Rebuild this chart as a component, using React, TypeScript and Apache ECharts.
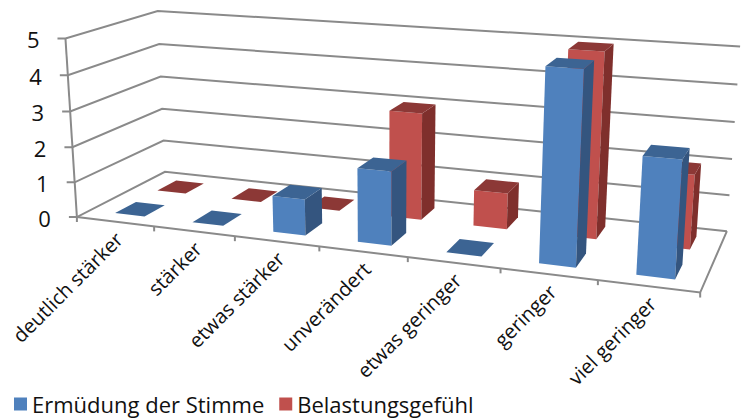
import React, { useEffect, useRef } from "react";
import * as echarts from "echarts";

const categories = ["deutlich stärker", "stärker", "etwas stärker", "unverändert", "etwas geringer", "geringer", "viel geringer"];
const yTicks = [0, 1, 2, 3, 4, 5];
const seriesBlueName = "Ermüdung der Stimme";
const seriesRedName = "Belastungsgefühl";
const blueValues = [0, 0, 1, 2, 0, 5, 3];
const redValues = [0, 0, 0, 3, 1, 5, 2];

const W = 747, H = 420;
const FONT = "'Open Sans', 'Noto Sans', sans-serif";
const LINE = "#8a8a8a";
const LW = 2;

// reference points of the perspective box: [u, v, w, screenX, screenY]
const anchors = [
  [0, 0, 0, 77, 217], [1, 0, 0, 700, 293], [0, 1, 0, 165, 172], [1, 1, 0, 727, 230],
  [0, 0, 1, 66, 38], [0, 1, 1, 157, 11], [1, 1, 1, 740, 47],
  [3 / 7, 0, 0, 319, 247], [0, 0, 0.6, 70, 111], [0, 1, 0.6, 161, 77], [1, 1, 0.6, 735, 122],
];

function solveProjection() {
  const rows: number[][] = [];
  const rhs: number[] = [];
  anchors.forEach(([u, v, w, sx, sy]) => {
    rows.push([u, v, w, 1, 0, 0, 0, 0, -sx * u, -sx * v, -sx * w]); rhs.push(sx);
    rows.push([0, 0, 0, 0, u, v, w, 1, -sy * u, -sy * v, -sy * w]); rhs.push(sy);
  });
  const n = 11;
  const A: number[][] = [];
  for (let i = 0; i < n; i++) {
    const r: number[] = [];
    for (let j = 0; j < n; j++) r.push(rows.reduce((s, row) => s + row[i] * row[j], 0));
    r.push(rows.reduce((s, row, k) => s + row[i] * rhs[k], 0));
    A.push(r);
  }
  for (let i = 0; i < n; i++) {
    let p = i;
    for (let k = i + 1; k < n; k++) if (Math.abs(A[k][i]) > Math.abs(A[p][i])) p = k;
    [A[i], A[p]] = [A[p], A[i]];
    for (let k = 0; k < n; k++) {
      if (k === i) continue;
      const f = A[k][i] / A[i][i];
      for (let j = i; j <= n; j++) A[k][j] -= f * A[i][j];
    }
  }
  return A.map((r, i) => r[n] / r[i]);
}
const M = solveProjection();
function project(u: number, v: number, w: number): number[] {
  const d = M[8] * u + M[9] * v + M[10] * w + 1;
  return [(M[0] * u + M[1] * v + M[2] * w + M[3]) / d, (M[4] * u + M[5] * v + M[6] * w + M[7]) / d];
}

const BAR_W = 0.385;
const BAR_SHIFT = 0.003;
const rows3d = { blue: [0.14, 0.37], red: [0.62, 0.85] };

function barRenderer(row: number[], front: string, side: string, top: string) {
  return (_p: any, api: any) => {
    const c = api.coord([api.value(0), api.value(1)]);
    const band = api.size([1, 0])[0];
    const uc = c[0] / W + BAR_SHIFT;
    const w = (H - c[1]) / H;
    const u0 = uc - (BAR_W * band) / 2 / W;
    const u1 = uc + (BAR_W * band) / 2 / W;
    const [v0, v1] = row;
    const poly = (pts: number[][], fill: string) => ({ type: "polygon", shape: { points: pts }, style: { fill }, silent: true });
    const children: any[] = [];
    if (w > 0) {
      children.push(poly([project(u0, v0, 0), project(u1, v0, 0), project(u1, v0, w), project(u0, v0, w)], front));
      children.push(poly([project(u1, v0, 0), project(u1, v1, 0), project(u1, v1, w), project(u1, v0, w)], side));
    }
    children.push(poly([project(u0, v0, w), project(u1, v0, w), project(u1, v1, w), project(u0, v1, w)], top));
    return { type: "group", children };
  };
}

function frameRenderer(_p: any, api: any) {
  const w = (H - api.coord([0, api.value(1)])[1]) / H;
  const a = project(0, 0, w), b = project(0, 1, w), c = project(1, 1, w);
  const children: any[] = [
    { type: "polyline", shape: { points: [[a[0] - 8, a[1]], a, b, c] }, style: { stroke: LINE, lineWidth: LW, fill: "none" } },
    {
      type: "text", x: a[0] - 26, y: a[1] + 1,
      style: { text: String(api.value(1)), align: "right", verticalAlign: "middle", fontFamily: FONT, fontSize: 22, fill: "#111" },
    },
  ];
  return { type: "group", children };
}

function floorRenderer(params: any, api: any) {
  const i = api.value(0);
  const band = api.size([1, 0])[0];
  const cx = api.coord([i, 0])[0];
  const left = (cx - band / 2) / W;
  const uc = cx / W;
  const t = project(left, 0, 0);
  const children: any[] = [
    { type: "line", shape: { x1: t[0], y1: t[1], x2: t[0], y2: t[1] + 5 }, style: { stroke: LINE, lineWidth: LW } },
  ];
  if (i === categories.length - 1) {
    const e = project((cx + band / 2) / W, 0, 0);
    children.push({ type: "line", shape: { x1: e[0], y1: e[1], x2: e[0], y2: e[1] + 5 }, style: { stroke: LINE, lineWidth: LW } });
    const a = project(0, 0, 0), b = project(1, 0, 0), d = project(1, 1, 0);
    const top = project(0, 0, 1);
    children.push({ type: "polyline", shape: { points: [a, b, d] }, style: { stroke: LINE, lineWidth: LW, fill: "none" } });
    children.push({ type: "line", shape: { x1: a[0], y1: a[1], x2: top[0], y2: top[1] }, style: { stroke: LINE, lineWidth: LW } });
  }
  const p = project(uc, 0, 0);
  children.push({
    type: "text", x: p[0] + 4, y: p[1] + 14, rotation: Math.PI / 4,
    style: { text: categories[params.dataIndex], align: "right", verticalAlign: "middle", fontFamily: FONT, fontSize: 20, fill: "#111" },
  });
  return { type: "group", children };
}

function pairs(values: number[]) {
  return values.map((v, i) => [i, v]);
}

export default function App() {
  const ref = useRef<HTMLDivElement>(null);
  useEffect(() => {
    const chart = echarts.init(ref.current!, null, { renderer: "svg" });
    chart.setOption({
      animation: false,
      backgroundColor: "#ffffff",
      grid: { left: 0, right: 0, top: 0, bottom: 0 },
      xAxis: { type: "category", data: categories, show: false },
      yAxis: { type: "value", min: 0, max: 5, interval: 1, show: false },
      legend: {
        left: 9, top: 388, itemWidth: 13, itemHeight: 13, itemGap: 15, icon: "rect",
        data: [seriesBlueName, seriesRedName],
        textStyle: { fontFamily: FONT, fontSize: 22, color: "#111" },
      },
      series: [
        { type: "custom", name: "frame", clip: false, silent: true, data: yTicks.map((t) => [0, t]), renderItem: frameRenderer },
        { type: "custom", name: "floor", clip: false, silent: true, data: categories.map((_, i) => [i, 0]), renderItem: floorRenderer },
        {
          type: "custom", name: seriesRedName, clip: false, silent: true, itemStyle: { color: "#C0504D" },
          data: pairs(redValues), renderItem: barRenderer(rows3d.red, "#C0504D", "#7F2F2C", "#8C3836"),
        },
        {
          type: "custom", name: seriesBlueName, clip: false, silent: true, itemStyle: { color: "#4F81BD" },
          data: pairs(blueValues), renderItem: barRenderer(rows3d.blue, "#4F81BD", "#34557F", "#3C6493"),
        },
      ],
    });
    return () => chart.dispose();
  }, []);
  return <div ref={ref} style={{ position: "absolute", left: 0, top: 0, width: W, height: H }} />;
}
